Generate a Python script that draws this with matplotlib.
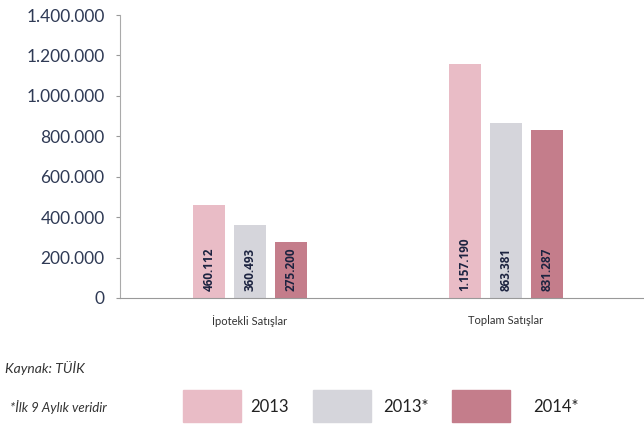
import numpy as np
import matplotlib.pyplot as plt
from matplotlib.patches import Rectangle

plt.rcParams['font.family'] = ['Lato', 'DejaVu Sans']

# veriler
categories = ['İpotekli Satışlar', 'Toplam Satışlar']
series_names = ['2013', '2013*', '2014*']
values_2013 = [460112, 1157190]
values_2013s = [360493, 863381]
values_2014s = [275200, 831287]
value_labels = [
    ['460.112', '1.157.190'],
    ['360.493', '863.381'],
    ['275.200', '831.287'],
]
yticks = [0, 200000, 400000, 600000, 800000, 1000000, 1200000, 1400000]
ytick_labels = ['0', '200.000', '400.000', '600.000', '800.000',
                '1.000.000', '1.200.000', '1.400.000']

colors = ['#e9bcc6', '#d5d5db', '#c47d8b']
text_col = '#2f3a55'

fig = plt.figure(figsize=(6.44, 4.29), dpi=100)
ax = fig.add_axes([120 / 644, 1 - 298 / 429, 1 - 120 / 644, (298 - 15) / 429])

x = np.arange(len(categories))
width = 0.125
offsets = [-0.16, 0.0, 0.16]
all_vals = [values_2013, values_2013s, values_2014s]
for i, vals in enumerate(all_vals):
    bars = ax.bar(x + offsets[i], vals, width, color=colors[i], label=series_names[i])
    for b, lab in zip(bars, value_labels[i]):
        ax.text(b.get_x() + b.get_width() / 2, 35000, lab, rotation=90,
                ha='center', va='bottom', fontsize=8.5, fontweight='bold',
                family=['Open Sans', 'DejaVu Sans'], color='#1c2340')

ax.set_xlim(-0.508, 0.54 + 1)
ax.set_ylim(0, 1400000)
ax.set_yticks(yticks)
ax.set_yticklabels(ytick_labels, fontsize=12.5, color=text_col)
ax.set_xticks(x)
ax.set_xticklabels(categories, fontsize=8, color='#333333')
ax.tick_params(axis='x', length=0, pad=12)
ax.tick_params(axis='y', length=3, color='#999999', pad=8)

for s in ['top', 'right']:
    ax.spines[s].set_visible(False)
ax.spines['left'].set_color('#aaaaaa')
ax.spines['bottom'].set_color('#999999')

# alt kısım: kaynak ve lejant
fig.text(5 / 644, 1 - 368 / 429, 'Kaynak: TÜİK', fontsize=10, style='italic',
         color='#333333', va='center')
fig.text(10 / 644, 1 - 407 / 429, '*İlk 9 Aylık veridir', fontsize=9.5,
         style='italic', color='#333333', va='center')

patch_x = [183, 313, 452]
text_x = [250, 383, 533]
for i in range(3):
    fig.patches.append(Rectangle((patch_x[i] / 644, 1 - 422 / 429), 58 / 644, 32 / 429,
                                 transform=fig.transFigure, color=colors[i]))
    fig.text(text_x[i] / 644, 1 - 407 / 429, series_names[i], fontsize=12,
             color='#222222', va='center')

fig.savefig('out.png', dpi=100)
